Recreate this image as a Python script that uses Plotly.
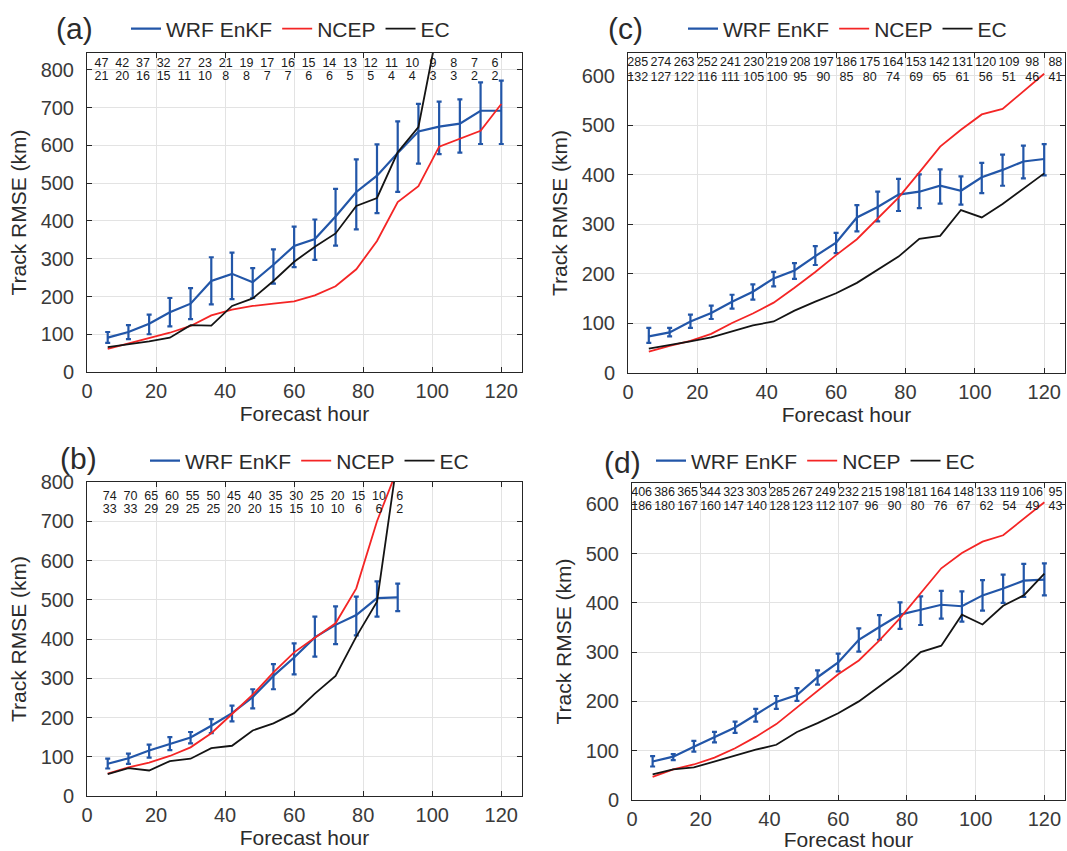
import plotly.graph_objects as go

# ---------------- data ----------------
hours = [6, 12, 18, 24, 30, 36, 42, 48, 54, 60, 66, 72, 78, 84, 90, 96, 102, 108, 114, 120]
hours_b = hours[:15]
hours_a_ec = hours[:17]

# panel (a)
a_enkf = [91, 106, 128, 158, 181, 241, 260, 238, 284, 334, 352, 412, 477, 520, 580, 637, 650, 658, 692, 692]
a_enkf_hi = [106, 124, 152, 196, 222, 304, 316, 275, 325, 385, 404, 485, 563, 603, 664, 710, 716, 722, 767, 772]
a_enkf_lo = [77, 87, 100, 121, 140, 179, 193, 196, 234, 278, 297, 335, 378, 421, 477, 552, 577, 581, 604, 604]
a_ncep = [61, 75, 88, 104, 122, 150, 165, 175, 181, 187, 203, 227, 272, 347, 450, 492, 597, 619, 639, 710]
a_ec = [66, 73, 81, 91, 124, 123, 175, 195, 241, 292, 332, 367, 440, 461, 582, 649, 930]
a_n1 = [47, 42, 37, 32, 27, 23, 21, 19, 17, 16, 15, 14, 13, 12, 11, 10, 9, 8, 7, 6]
a_n2 = [21, 20, 16, 15, 11, 10, 8, 8, 7, 7, 6, 6, 5, 5, 4, 4, 3, 3, 2, 2]

# panel (b)
b_enkf = [82, 96, 116, 133, 149, 179, 211, 252, 306, 353, 404, 436, 461, 504, 506]
b_enkf_hi = [95, 108, 131, 150, 163, 196, 230, 272, 336, 389, 457, 483, 508, 547, 541]
b_enkf_lo = [70, 82, 98, 117, 134, 160, 190, 223, 272, 310, 355, 387, 409, 457, 471]
b_ncep = [57, 73, 85, 102, 124, 160, 209, 258, 315, 366, 403, 440, 529, 700, 835]
b_ec = [56, 71, 65, 89, 95, 122, 128, 167, 185, 211, 261, 306, 406, 495, 865]
b_n1 = [74, 70, 65, 60, 55, 50, 45, 40, 35, 30, 25, 20, 15, 10, 6]
b_n2 = [33, 33, 29, 29, 25, 25, 20, 20, 15, 15, 10, 10, 6, 6, 2]

# panel (c)
c_enkf = [74, 82, 104, 121, 144, 164, 191, 207, 236, 263, 314, 335, 360, 366, 378, 368, 395, 410, 427, 432]
c_enkf_hi = [91, 91, 118, 136, 158, 179, 204, 222, 256, 283, 339, 366, 392, 401, 411, 397, 424, 441, 459, 462]
c_enkf_lo = [61, 74, 91, 109, 130, 148, 175, 190, 218, 242, 286, 306, 327, 333, 342, 340, 363, 378, 393, 399]
c_ncep = [43, 55, 65, 79, 101, 120, 142, 172, 204, 238, 270, 312, 354, 405, 457, 491, 522, 533, 569, 604]
c_ec = [49, 56, 64, 72, 84, 96, 104, 126, 144, 161, 182, 208, 235, 271, 277, 329, 314, 341, 372, 403]
c_n1 = [285, 274, 263, 252, 241, 230, 219, 208, 197, 186, 175, 164, 153, 142, 131, 120, 109, 98, 88, 80]
c_n2 = [132, 127, 122, 116, 111, 105, 100, 95, 90, 85, 80, 74, 69, 65, 61, 56, 51, 46, 41, 38]

# panel (d)
d_enkf = [78, 88, 108, 127, 147, 173, 199, 213, 249, 279, 325, 351, 376, 386, 396, 393, 415, 429, 445, 447]
d_enkf_hi = [89, 93, 120, 138, 159, 185, 211, 227, 263, 297, 348, 375, 401, 413, 424, 423, 446, 457, 479, 480]
d_enkf_lo = [68, 81, 98, 117, 136, 159, 185, 201, 234, 261, 301, 325, 347, 355, 368, 362, 384, 400, 412, 415]
d_ncep = [47, 62, 72, 86, 105, 128, 154, 188, 222, 255, 283, 324, 369, 420, 470, 501, 524, 537, 571, 604]
d_ec = [52, 62, 66, 78, 89, 102, 112, 138, 156, 176, 200, 230, 261, 300, 313, 376, 356, 394, 415, 459]
d_n1 = [406, 386, 365, 344, 323, 303, 285, 267, 249, 232, 215, 198, 181, 164, 148, 133, 119, 106, 95, 86]
d_n2 = [186, 180, 167, 160, 147, 140, 128, 123, 112, 107, 96, 90, 80, 76, 67, 62, 54, 49, 43, 40]

series_names = ["WRF EnKF", "NCEP", "EC"]
x_title = "Forecast hour"
y_title = "Track RMSE (km)"

# ---------------- style ----------------
W, H = 1067, 851
BLUE = "#2256A8"
RED = "#F42525"
BLACK = "#141414"
AX = "#262626"
TXT = "#2b2b2b"
FONT = "Liberation Sans, Arial, sans-serif"

def px_x(p):
    return p / W

def px_y(p):
    return 1 - p / H

panels = {
    "a": dict(ax="", l=87, r=522, t=53, b=372, ymax=845, yt=800, lx=126, ly=29, tx=74, ty=28,
              n_y=(816, 781)),
    "c": dict(ax="2", l=628, r=1065, t=53, b=373, ymax=646, yt=600, lx=683, ly=29, tx=625, ty=28,
              n_y=(626, 596)),
    "b": dict(ax="3", l=87, r=522, t=482, b=796, ymax=800, yt=800, lx=145, ly=461, tx=78, ty=459,
              n_y=(763, 730)),
    "d": dict(ax="4", l=632, r=1065, t=483, b=800, ymax=643, yt=600, lx=651, ly=461, tx=622, ty=462,
              n_y=(622, 594)),
}

data = {
    "a": (hours, a_enkf, a_enkf_hi, a_enkf_lo, hours, a_ncep, hours_a_ec, a_ec, a_n1, a_n2),
    "b": (hours_b, b_enkf, b_enkf_hi, b_enkf_lo, hours_b, b_ncep, hours_b, b_ec, b_n1, b_n2),
    "c": (hours, c_enkf, c_enkf_hi, c_enkf_lo, hours, c_ncep, hours, c_ec, c_n1, c_n2),
    "d": (hours, d_enkf, d_enkf_hi, d_enkf_lo, hours, d_ncep, hours, d_ec, d_n1, d_n2),
}

fig = go.Figure()
layout = dict(
    width=W, height=H,
    margin=dict(l=0, r=0, t=0, b=0, autoexpand=False),
    paper_bgcolor="white", plot_bgcolor="white",
    font=dict(family=FONT, color=TXT),
    annotations=[],
)

legend_keys = {"a": "legend", "c": "legend2", "b": "legend3", "d": "legend4"}
label_of = {"a": "(a)", "b": "(b)", "c": "(c)", "d": "(d)"}

for key, g in panels.items():
    xh, enkf, hi, lo, xn, ncep, xe, ec, n1, n2 = data[key]
    xa = "x" + g["ax"]
    ya = "y" + g["ax"]
    leg = legend_keys[key]

    fig.add_trace(go.Scatter(
        x=xh, y=enkf, mode="lines", name=series_names[0], legend=leg,
        line=dict(color=BLUE, width=2.2), xaxis=xa, yaxis=ya,
        error_y=dict(type="data", symmetric=False,
                     array=[h - m for h, m in zip(hi, enkf)],
                     arrayminus=[m - l for m, l in zip(enkf, lo)],
                     color=BLUE, thickness=2.2, width=2.5),
    ))
    fig.add_trace(go.Scatter(
        x=xn, y=ncep, mode="lines", name=series_names[1], legend=leg,
        line=dict(color=RED, width=1.8), xaxis=xa, yaxis=ya,
    ))
    fig.add_trace(go.Scatter(
        x=xe, y=ec, mode="lines", name=series_names[2], legend=leg,
        line=dict(color=BLACK, width=1.8), xaxis=xa, yaxis=ya,
    ))

    if key == "a":
        tx = [h - 1.8 for h in xh]
    elif key == "b":
        tx = [h + 0.6 for h in xh]
    else:
        tx = [(h - 6) * 1.115 + 2.8 for h in xh]
    for row, vals in zip(g["n_y"], (n1, n2)):
        fig.add_trace(go.Scatter(
            x=tx, y=[row] * len(vals), mode="text", text=[str(v) for v in vals],
            textposition="middle center", textfont=dict(size=12.5, color="#1a1a1a", family=FONT),
            cliponaxis=True, showlegend=False, hoverinfo="skip", xaxis=xa, yaxis=ya,
        ))

    axis_common = dict(
        showline=True, linecolor=AX, linewidth=1, mirror="ticks",
        ticks="inside", ticklen=5, tickcolor=AX, tickwidth=1,
        showgrid=True, gridcolor="#E3E3E3", gridwidth=1, zeroline=False,
        tickfont=dict(size=20, color="#3a3a3a", family=FONT),
        automargin=False,
    )
    layout["xaxis" + g["ax"]] = dict(
        axis_common,
        domain=[px_x(g["l"]), px_x(g["r"])], range=[0, 126],
        tickvals=[0, 20, 40, 60, 80, 100, 120], anchor=ya,
        title=dict(text=x_title, font=dict(size=21, color=TXT), standoff=2),
        ticklabelstandoff=1,
    )
    layout["yaxis" + g["ax"]] = dict(
        axis_common,
        domain=[px_y(g["b"]), px_y(g["t"])], range=[0, g["ymax"]],
        tickvals=list(range(0, g["yt"] + 1, 100)), anchor=xa,
        title=dict(text=y_title, font=dict(size=21, color=TXT), standoff=8),
        ticklabelstandoff=8,
    )
    layout[leg] = dict(
        orientation="h", x=px_x(g["lx"]), y=px_y(g["ly"]), xanchor="left", yanchor="middle",
        font=dict(size=21, color=TXT, family=FONT), bgcolor="rgba(0,0,0,0)",
        itemwidth=30, tracegroupgap=0,
    )
    layout["annotations"].append(dict(
        text=label_of[key], x=px_x(g["tx"]), y=px_y(g["ty"]), xref="paper", yref="paper",
        showarrow=False, xanchor="center", yanchor="middle",
        font=dict(size=30, color=TXT, family=FONT),
    ))

fig.update_layout(**layout)
fig.write_html(
    "out.html",
    config={"displayModeBar": False},
    post_script="document.body.style.margin='0px';document.body.style.overflow='hidden';",
)
